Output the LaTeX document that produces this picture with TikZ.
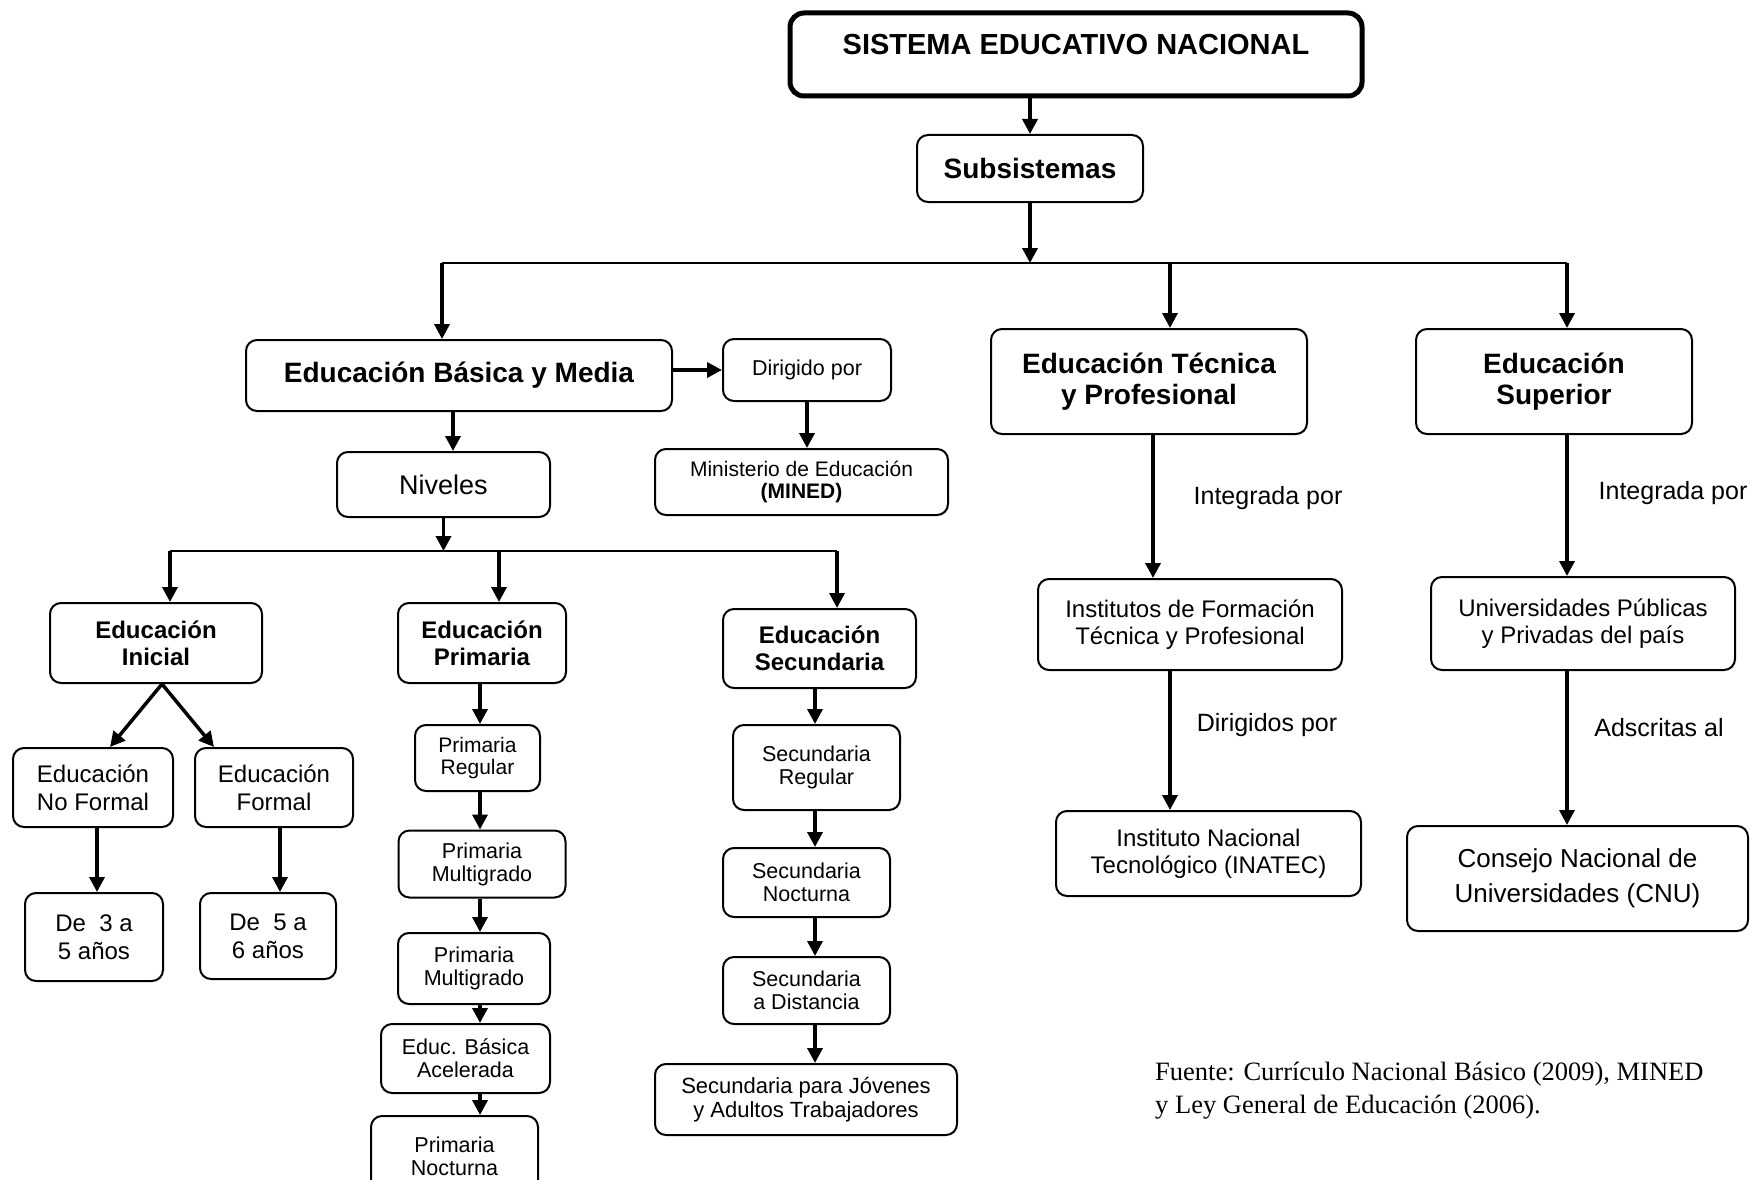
\documentclass[tikz,border=0pt]{standalone}
\usepackage{fontspec}
\setmainfont{Liberation Sans}
\newfontfamily\fuentefont{Liberation Serif}
\usetikzlibrary{arrows.meta}

\begin{document}
\begin{tikzpicture}[x=1pt,y=-1pt,
  box/.style={draw, line width=2pt, rounded corners=11pt, align=center, inner sep=1pt},
  arr/.style={line width=3.5pt, -{Triangle[length=15pt,width=15pt]}},
  hl/.style={line width=2.5pt},
  fbig/.style={font=\fontsize{28}{31}\selectfont\bfseries},
  fmid/.style={font=\fontsize{24}{27}\selectfont\bfseries},
  freg/.style={font=\fontsize{24}{28}\selectfont},
  fsm/.style={font=\fontsize{21.5}{23}\selectfont},
  flab/.style={font=\fontsize{25}{28}\selectfont},
]
\useasboundingbox (0,0) rectangle (1750,1180);
\clip (0,0) rectangle (1750,1180);

% top
\node[box, line width=5pt, rounded corners=14pt, minimum width=572pt, minimum height=83pt] (sen) at (1076,54.5) {};
\node[font=\fontsize{29}{32}\selectfont\bfseries] (sentxt) at (1076,45) {SISTEMA EDUCATIVO NACIONAL};
\node[box, fbig, minimum width=226pt, minimum height=67pt] (sub) at (1030,168.5) {Subsistemas};

% level 1
\node[box, fbig, minimum width=426pt, minimum height=71pt] (ebm) at (459,375.5) {Educación Básica y Media};
\node[box, fsm, minimum width=168pt, minimum height=62pt] (dir) at (807,370) {Dirigido por};
\node[box, fsm, minimum width=293pt, minimum height=66pt, font=\fontsize{21}{22}\selectfont] (min) at (801.5,482) {Ministerio de Educación\\\textbf{(MINED)}};
\node[box, minimum width=213pt, minimum height=65pt, font=\fontsize{27}{30}\selectfont] (niv) at (443.5,484.5) {Niveles};
\node[box, fbig, minimum width=316pt, minimum height=105pt] (tec) at (1149,381.5) {Educación Técnica\\y Profesional};
\node[box, fbig, minimum width=276pt, minimum height=105pt] (sup) at (1554,381.5) {Educación\\Superior};

% niveles
\node[box, fmid, minimum width=212pt, minimum height=80pt] (ini) at (156,643) {Educación\\Inicial};
\node[box, fmid, minimum width=168pt, minimum height=80pt] (prim) at (482,643) {Educación\\Primaria};
\node[box, fmid, minimum width=193pt, minimum height=79pt] (sec) at (819.5,648.5) {Educación\\Secundaria};

% inicial
\node[box, freg, minimum width=160pt, minimum height=79pt] (nf) at (93,787.5) {Educación\\No Formal};
\node[box, freg, minimum width=158pt, minimum height=79pt] (fo) at (274,787.5) {Educación\\Formal};
\node[box, freg, minimum width=138pt, minimum height=88pt] (d35) at (94,937) {De\ \ 3 a\\5 años};
\node[box, freg, minimum width=136pt, minimum height=86pt] (d56) at (268,936) {De\ \ 5 a\\6 años};

% primaria
\node[box, fsm, minimum width=125pt, minimum height=66pt, font=\fontsize{21}{22}\selectfont] (pr) at (477.5,758) {Primaria\\Regular};
\node[box, fsm, minimum width=167pt, minimum height=67pt] (pm1) at (482,864) {Primaria\\Multigrado};
\node[box, fsm, minimum width=152pt, minimum height=71pt] (pm2) at (474,968.5) {Primaria\\Multigrado};
\node[box, fsm, minimum width=169pt, minimum height=69pt] (eba) at (465.5,1058.5) {Educ. Básica\\Acelerada};
\node[box, fsm, minimum width=167pt, minimum height=80pt, anchor=north] (pn) at (454.5,1115) {Primaria\\Nocturna};

% secundaria
\node[box, fsm, minimum width=167pt, minimum height=85pt] (sr) at (816.5,767.5) {Secundaria\\Regular};
\node[box, fsm, minimum width=167pt, minimum height=69pt] (sn) at (806.5,882.5) {Secundaria\\Nocturna};
\node[box, fsm, minimum width=167pt, minimum height=67pt] (sd) at (806.5,990.5) {Secundaria\\a Distancia};
\node[box, minimum width=302pt, minimum height=71pt, font=\fontsize{22}{24}\selectfont] (sj) at (806,1099.5) {Secundaria para Jóvenes\\y Adultos Trabajadores};

% tecnica
\node[box, minimum width=304pt, minimum height=91pt, font=\fontsize{24}{27}\selectfont] (inst) at (1190,624.5) {Institutos de Formación\\Técnica y Profesional};
\node[box, minimum width=305pt, minimum height=85pt, font=\fontsize{24}{27}\selectfont] (inatec) at (1208.5,853.5) {Instituto Nacional\\Tecnológico (INATEC)};
\node[flab] (lab1) at (1268,498) {Integrada por};
\node[flab] (lab2) at (1267,725) {Dirigidos por};

% superior
\node[box, minimum width=304pt, minimum height=93pt, font=\fontsize{24}{27}\selectfont] (univ) at (1583,623.5) {Universidades Públicas\\y Privadas del país};
\node[box, minimum width=341pt, minimum height=105pt, font=\fontsize{26}{35}\selectfont] (cnu) at (1577.5,878.5) {Consejo Nacional de\\Universidades (CNU)};
\node[flab] (lab3) at (1673,493) {Integrada por};
\node[flab] (lab4) at (1659,728) {Adscritas al};

% fuente
\node[anchor=west, align=left, inner sep=0pt, font=\fuentefont\fontsize{26.5}{33}\selectfont] (fuente) at (1155,1091) {Fuente: Currículo Nacional Básico (2009), MINED\\y Ley General de Educación (2006).};

% coordinates
\coordinate (j1) at (1030,263);
\coordinate (jL) at (442,263);
\coordinate (jT) at (1170,263);
\coordinate (jR) at (1567,263);
\coordinate (nL) at (170,551);
\coordinate (nP) at (499,551);
\coordinate (nR) at (837,551);
\coordinate (px) at (480,0);
\coordinate (sx) at (815,0);
\coordinate (tx1) at (1153,0);
\coordinate (tx2) at (1170,0);
\coordinate (ux) at (1567,0);

% connectors
\draw[arr] (sen.south -| sub.north) -- (sub.north);
\draw[arr] (sub.south) -- (j1);
\draw[hl] (jL) -- (jR);
\draw[arr] (jL) -- (jL |- ebm.north);
\draw[arr] (jT) -- (jT |- tec.north);
\draw[arr] (jR) -- (jR |- sup.north);

\draw[arr] (ebm.east |- dir.west) -- (dir.west);
\draw[arr] (dir.south) -- (dir.south |- min.north);
\draw[arr] ([xshift=-6pt]ebm.south) -- ([xshift=-6pt]ebm.south |- niv.north);
\draw[arr] (niv.south) -- (niv.south |- nL);
\draw[hl] (nL) -- (nR);
\draw[arr] (nL) -- (nL |- ini.north);
\draw[arr] (nP) -- (nP |- prim.north);
\draw[arr] (nR) -- (nR |- sec.north);

\draw[arr] ([xshift=6pt]ini.south) -- ([xshift=17pt]nf.north);
\draw[arr] ([xshift=6pt]ini.south) -- ([xshift=20pt]fo.north west);
\draw[arr] ([xshift=4pt]nf.south) -- ([xshift=4pt]nf.south |- d35.north);
\draw[arr] ([xshift=6pt]fo.south) -- ([xshift=6pt]fo.south |- d56.north);

\draw[arr] (px |- prim.south) -- (px |- pr.north);
\draw[arr] (px |- pr.south) -- (px |- pm1.north);
\draw[arr] (px |- pm1.south) -- (px |- pm2.north);
\draw[arr] (px |- pm2.south) -- (px |- eba.north);
\draw[arr] (px |- eba.south) -- (px |- pn.north);

\draw[arr] (sx |- sec.south) -- (sx |- sr.north);
\draw[arr] (sx |- sr.south) -- (sx |- sn.north);
\draw[arr] (sx |- sn.south) -- (sx |- sd.north);
\draw[arr] (sx |- sd.south) -- (sx |- sj.north);

\draw[arr] (tx1 |- tec.south) -- (tx1 |- inst.north);
\draw[arr] (tx2 |- inst.south) -- (tx2 |- inatec.north);
\draw[arr] (ux |- sup.south) -- (ux |- univ.north);
\draw[arr] (ux |- univ.south) -- (ux |- cnu.north);
\end{tikzpicture}
\end{document}
